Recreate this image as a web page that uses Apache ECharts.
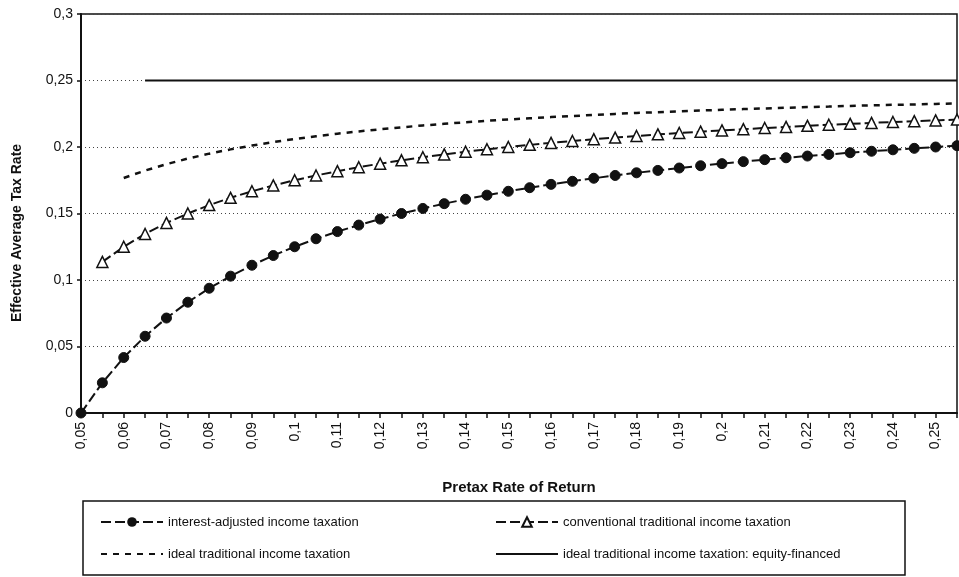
<!DOCTYPE html>
<html>
<head>
<meta charset="utf-8">
<title>Effective Average Tax Rate</title>
<script src="https://cdn.jsdelivr.net/npm/echarts@6/dist/echarts.min.js"></script>
<style>
  html, body { margin: 0; padding: 0; background: #fff; }
  #chart { width: 959px; height: 577px; }
</style>
</head>
<body>
<div id="chart"></div>
<script>
// x categories: pretax rate of return, 0,05 .. 0,255 step 0,005
const rates = ['0,05', '0,055', '0,06', '0,065', '0,07', '0,075', '0,08', '0,085', '0,09', '0,095',
  '0,1', '0,105', '0,11', '0,115', '0,12', '0,125', '0,13', '0,135', '0,14', '0,145',
  '0,15', '0,155', '0,16', '0,165', '0,17', '0,175', '0,18', '0,185', '0,19', '0,195',
  '0,2', '0,205', '0,21', '0,215', '0,22', '0,225', '0,23', '0,235', '0,24', '0,245',
  '0,25', '0,255']

// interest-adjusted income taxation
const interestAdjusted = [0, 0.0227, 0.0417, 0.0577, 0.0714, 0.0833, 0.0938, 0.1029, 0.1111, 0.1184,
  0.125, 0.131, 0.1364, 0.1413, 0.1458, 0.15, 0.1538, 0.1574, 0.1607, 0.1638,
  0.1667, 0.1694, 0.1719, 0.1742, 0.1765, 0.1786, 0.1806, 0.1824, 0.1842, 0.1859,
  0.1875, 0.189, 0.1905, 0.1919, 0.1932, 0.1944, 0.1957, 0.1968, 0.1979, 0.199,
  0.2, 0.201]

// conventional traditional income taxation
const conventional = [null, 0.1136, 0.125, 0.1346, 0.1429, 0.15, 0.1563, 0.1618, 0.1667, 0.1711,
  0.175, 0.1786, 0.1818, 0.1848, 0.1875, 0.19, 0.1923, 0.1944, 0.1964, 0.1983,
  0.2, 0.2016, 0.2031, 0.2045, 0.2059, 0.2071, 0.2083, 0.2095, 0.2105, 0.2115,
  0.2125, 0.2134, 0.2143, 0.2151, 0.2159, 0.2167, 0.2174, 0.2181, 0.2188, 0.2194,
  0.22, 0.2206]

// ideal traditional income taxation
const idealTraditional = [null, null, 0.1767, 0.1823, 0.1871, 0.1913, 0.195, 0.1982, 0.2011, 0.2037,
  0.206, 0.2081, 0.21, 0.2117, 0.2133, 0.2148, 0.2162, 0.2174, 0.2186, 0.2197,
  0.2207, 0.2216, 0.2225, 0.2233, 0.2241, 0.2249, 0.2256, 0.2262, 0.2268, 0.2274,
  0.228, 0.2285, 0.229, 0.2295, 0.23, 0.2304, 0.2309, 0.2313, 0.2317, 0.232,
  0.2324, 0.2327]

// ideal traditional income taxation: equity-financed
const equityFinanced = [null, null, null, 0.25, 0.25, 0.25, 0.25, 0.25, 0.25, 0.25,
  0.25, 0.25, 0.25, 0.25, 0.25, 0.25, 0.25, 0.25, 0.25, 0.25,
  0.25, 0.25, 0.25, 0.25, 0.25, 0.25, 0.25, 0.25, 0.25, 0.25,
  0.25, 0.25, 0.25, 0.25, 0.25, 0.25, 0.25, 0.25, 0.25, 0.25,
  0.25, 0.25]

const seriesNames = [
  'interest-adjusted income taxation',
  'conventional traditional income taxation',
  'ideal traditional income taxation',
  'ideal traditional income taxation: equity-financed'
]

const font = '"Liberation Sans", Arial, sans-serif'

let myChart = echarts.init(document.getElementById('chart'))
let option = {
  animation: false,
  backgroundColor: '#fff',
  textStyle: { fontFamily: font, color: '#111' },
  grid: {
    left: 81,
    right: 2,
    top: 14,
    bottom: 164,
    show: true,
    borderColor: '#111',
    borderWidth: 1.5
  },
  legend: {
    // the two plain-line entries get no marker in the key
    data: [
      seriesNames[0],
      seriesNames[1],
      { name: seriesNames[2], itemStyle: { opacity: 0 } },
      { name: seriesNames[3], itemStyle: { opacity: 0 } }
    ],
    left: 83,
    top: 501,
    width: 780,
    padding: [14, 33, 14, 17],
    borderColor: '#111',
    borderWidth: 1.5,
    itemGap: 18,
    itemWidth: 62,
    itemHeight: 12,
    textStyle: { fontFamily: font, fontSize: 13, color: '#111', width: 309, lineHeight: 14 }
  },
  graphic: [
    {
      type: 'text',
      x: 17,
      y: 233,
      rotation: Math.PI / 2,
      style: {
        text: 'Effective Average Tax Rate',
        font: 'bold 14px ' + font,
        fill: '#111',
        textAlign: 'center',
        textVerticalAlign: 'middle'
      }
    }
  ],
  xAxis: {
    type: 'category',
    data: rates,
    boundaryGap: false,
    name: 'Pretax Rate of Return',
    nameLocation: 'middle',
    nameGap: 67,
    nameTextStyle: { fontFamily: font, fontSize: 15, fontWeight: 'bold', color: '#111' },
    axisLine: { lineStyle: { color: '#111', width: 2 } },
    axisTick: { interval: 0, length: 5, lineStyle: { color: '#111', width: 1.5 } },
    axisLabel: { interval: 1, rotate: 90, margin: 9, fontSize: 14, color: '#111' },
    splitLine: { show: false }
  },
  yAxis: {
    type: 'value',
    min: 0,
    max: 0.3,
    interval: 0.05,
    axisLine: { show: true, lineStyle: { color: '#111', width: 2 } },
    axisTick: { show: true, length: 4, lineStyle: { color: '#111', width: 1.5 } },
    axisLabel: {
      fontSize: 14,
      color: '#111',
      margin: 8,
      formatter: value => String(Math.round(value * 100) / 100).replace('.', ',')
    },
    splitLine: { lineStyle: { color: '#444', type: [1, 3], width: 1 } }
  },
  series: [
    {
      name: seriesNames[0],
      type: 'line',
      data: interestAdjusted,
      symbol: 'circle',
      symbolSize: 10,
      itemStyle: { color: '#111', borderColor: '#111' },
      lineStyle: { color: '#111', width: 2, type: [10, 4] }
    },
    {
      name: seriesNames[1],
      type: 'line',
      data: conventional,
      symbol: 'triangle',
      symbolSize: 11,
      itemStyle: { color: '#fff', borderColor: '#111', borderWidth: 1.5 },
      lineStyle: { color: '#111', width: 2, type: [10, 4] }
    },
    {
      name: seriesNames[2],
      type: 'line',
      data: idealTraditional,
      symbol: 'none',
      itemStyle: { color: '#111' },
      lineStyle: { color: '#111', width: 2.5, type: [6, 6] }
    },
    {
      name: seriesNames[3],
      type: 'line',
      data: equityFinanced,
      symbol: 'none',
      itemStyle: { color: '#111' },
      lineStyle: { color: '#111', width: 2, type: 'solid' }
    }
  ]
}
myChart.setOption(option)
</script>
</body>
</html>
